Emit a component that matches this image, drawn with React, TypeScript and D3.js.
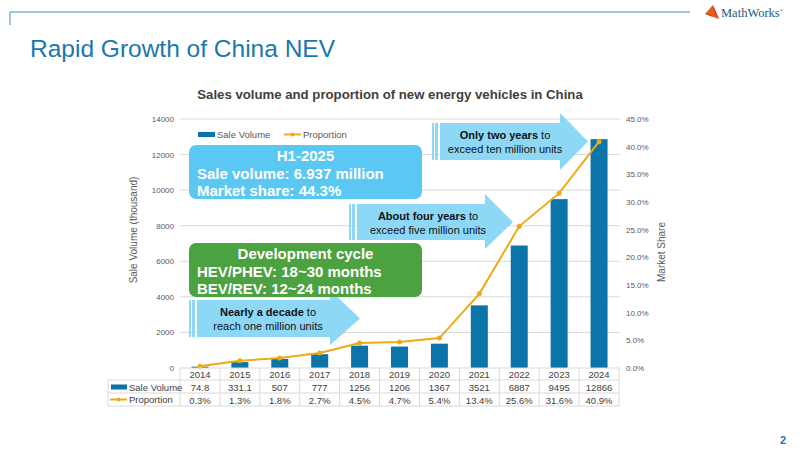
import React from 'react';
import * as d3 from 'd3';

// Annual NEV sales in China (thousand units) and share of total vehicle sales (%)
const years = ['2014', '2015', '2016', '2017', '2018', '2019', '2020', '2021', '2022', '2023', '2024'];
const saleVolume = [74.8, 331.1, 507, 777, 1256, 1206, 1367, 3521, 6887, 9495, 12866];
const saleLabels = ['74.8', '331.1', '507', '777', '1256', '1206', '1367', '3521', '6887', '9495', '12866'];
const proportion = [0.3, 1.3, 1.8, 2.7, 4.5, 4.7, 5.4, 13.4, 25.6, 31.6, 40.9];
const volumeTicks = [0, 2000, 4000, 6000, 8000, 10000, 12000, 14000];
const shareTicks = [0, 5, 10, 15, 20, 25, 30, 35, 40, 45];

const FONT = 'Liberation Sans, Arial, sans-serif';
const BLUE = '#0b74a8';
const ORANGE = '#eeaa12';
const GRID = '#d9d9d9';
const TICK = '#595959';
const ARROW = '#8dd7f7';

function arrowPath(x0: number, x1: number, tip: number, y0: number, y1: number, h0: number, h1: number) {
  const mid = (y0 + y1) / 2;
  return `M${x0},${y0}H${x1}V${h0}L${tip},${mid}L${x1},${h1}V${y1}H${x0}Z`;
}

function Arrow({ x0, x1, tip, y0, y1, h0, h1 }: { x0: number; x1: number; tip: number; y0: number; y1: number; h0: number; h1: number }) {
  return (
    <g>
      <rect x={x0 - 8} y={y0} width={2} height={y1 - y0} fill={ARROW} />
      <rect x={x0 - 5} y={y0} width={3} height={y1 - y0} fill={ARROW} />
      <path d={arrowPath(x0, x1, tip, y0, y1, h0, h1)} fill={ARROW} />
    </g>
  );
}

export default function App() {
  const width = 800;
  const height = 450;
  const left = 180;
  const right = 619;
  const top = 119;
  const bottom = 368;

  const x = d3.scaleBand<string>().domain(years).range([left, right]).paddingInner(0).paddingOuter(0);
  const y = d3.scaleLinear().domain([0, 14000]).range([bottom, top]);
  const y2 = d3.scaleLinear().domain([0, 45]).range([bottom, top]);
  const barW = 17;
  const cx = (yr: string) => (x(yr) as number) + x.bandwidth() / 2;

  const line = d3.line<number>()
    .x((_, i) => cx(years[i]))
    .y((d) => y2(d));

  const rowYear = 374;
  const rowSale = 387;
  const rowProp = 400;
  const tableLines = [380, 393, 406];
  const tableLeft = 108;

  return (
    <svg width={width} height={height} style={{ position: 'absolute', left: 0, top: 0, background: '#fff' }} fontFamily={FONT}>
      {/* slide frame */}
      <line x1={10} x2={690} y1={12} y2={12} stroke="#4a8bb0" strokeWidth={1} />
      <line x1={10} x2={10} y1={12} y2={25} stroke="#4a8bb0" strokeWidth={1} />
      <g transform="translate(705,5)">
        <path d="M0,9 L8,0 L14,14 L8,12 Z" fill="#e8591a" />
        <path d="M8,0 L14,14 L10,8 Z" fill="#c0391b" />
        <path d="M0,9 L5,10 L8,12 Z" fill="#2a6fa8" />
        <text x={16} y={11.5} fontFamily="Liberation Serif, serif" fontSize={12.5} fill="#25567f">
          MathWorks<tspan fontSize={5} dy={-5}>®</tspan>
        </text>
      </g>
      <text x={30} y={57} fontSize={24.5} fill="#1978ad">Rapid Growth of China NEV</text>
      <text x={780} y={444} fontSize={11} fontWeight="bold" fill="#1978ad">2</text>

      {/* chart title */}
      <text x={390} y={99} textAnchor="middle" fontSize={13.2} fontWeight="bold" fill="#404040">
        Sales volume and proportion of new energy vehicles in China
      </text>

      {/* gridlines */}
      {volumeTicks.filter((t) => t > 0).map((t) => (
        <line key={t} x1={left} x2={right + 1} y1={y(t)} y2={y(t)} stroke={GRID} strokeWidth={1} />
      ))}

      {/* left axis labels */}
      {volumeTicks.map((t) => (
        <text key={t} x={174} y={y(t) + 3} textAnchor="end" fontSize={8} fill={TICK}>{t}</text>
      ))}
      {/* right axis labels */}
      {shareTicks.map((t) => (
        <text key={t} x={626} y={y2(t) + 3} fontSize={8} fill={TICK}>{`${t.toFixed(1)}%`}</text>
      ))}
      <text transform={`translate(137,230) rotate(-90)`} textAnchor="middle" fontSize={10} fill={TICK}>Sale Volume (thousand)</text>
      <text transform={`translate(665,252) rotate(-90)`} textAnchor="middle" fontSize={10} fill={TICK}>Market Share</text>

      {/* bars */}
      {saleVolume.map((v, i) => (
        <rect key={years[i]} x={cx(years[i]) - barW / 2} y={y(v)} width={barW} height={y(0) - y(v)} fill={BLUE} />
      ))}

      {/* proportion line */}
      <path d={line(proportion) ?? ''} fill="none" stroke={ORANGE} strokeWidth={2} />
      {proportion.map((v, i) => (
        <circle key={years[i]} cx={cx(years[i])} cy={y2(v)} r={2.5} fill={ORANGE} />
      ))}

      {/* legend */}
      <rect x={198} y={132} width={17} height={5} fill={BLUE} />
      <text x={217} y={137.5} fontSize={9.5} fill={TICK}>Sale Volume</text>
      <line x1={284} x2={301} y1={134.5} y2={134.5} stroke={ORANGE} strokeWidth={2} />
      <circle cx={292.5} cy={134.5} r={2} fill={ORANGE} />
      <text x={303} y={137.5} fontSize={9.5} fill={TICK}>Proportion</text>

      {/* data table */}
      <line x1={left} x2={right} y1={bottom} y2={bottom} stroke={GRID} />
      {tableLines.map((ty) => (
        <line key={ty} x1={tableLeft} x2={right} y1={ty} y2={ty} stroke={GRID} />
      ))}
      <line x1={tableLeft} x2={tableLeft} y1={380} y2={406} stroke={GRID} />
      {[...years.map((yr) => x(yr) as number), right].map((vx, i) => (
        <line key={i} x1={vx} x2={vx} y1={bottom} y2={406} stroke={GRID} />
      ))}
      {years.map((yr, i) => (
        <g key={yr} fontSize={9.5} fill="#404040" textAnchor="middle">
          <text x={cx(yr)} y={rowYear + 3.5}>{yr}</text>
          <text x={cx(yr)} y={rowSale + 3.5}>{saleLabels[i]}</text>
          <text x={cx(yr)} y={rowProp + 3.5}>{`${proportion[i].toFixed(1)}%`}</text>
        </g>
      ))}
      <rect x={111} y={384.5} width={16} height={5} fill={BLUE} />
      <text x={129} y={390.5} fontSize={9.5} fill="#404040">Sale Volume</text>
      <line x1={110} x2={127} y1={399.5} y2={399.5} stroke={ORANGE} strokeWidth={2} />
      <circle cx={118.5} cy={399.5} r={2} fill={ORANGE} />
      <text x={129} y={403} fontSize={9.5} fill="#404040">Proportion</text>

      {/* callout arrows */}
      <Arrow x0={197} x1={330} tip={360} y0={300} y1={337} h0={290} h1={345} />
      <text x={268} y={316} textAnchor="middle" fontSize={11} fill="#111">
        <tspan fontWeight="bold">Nearly a decade</tspan> to
      </text>
      <text x={268} y={330} textAnchor="middle" fontSize={11} fill="#111">reach one million units</text>

      <Arrow x0={357} x1={485} tip={513} y0={204} y1={240} h0={194} h1={249} />
      <text x={428} y={220} textAnchor="middle" fontSize={11} fill="#111">
        <tspan fontWeight="bold">About four years</tspan> to
      </text>
      <text x={428} y={234} textAnchor="middle" fontSize={11} fill="#111">exceed five million units</text>

      <Arrow x0={440} x1={560} tip={588} y0={123} y1={160} h0={113} h1={170} />
      <text x={505} y={139} textAnchor="middle" fontSize={11} fill="#111">
        <tspan fontWeight="bold">Only two years</tspan> to
      </text>
      <text x={505} y={153} textAnchor="middle" fontSize={11} fill="#111">exceed ten million units</text>

      {/* info boxes */}
      <rect x={189} y={145} width={233} height={54} rx={7} fill="#5bc8f4" />
      <g fill="#fff" fontWeight="bold" fontSize={15}>
        <text x={305.5} y={160.5} textAnchor="middle">H1-2025</text>
        <text x={197} y={178.5}>Sale volume: 6.937 million</text>
        <text x={197} y={196}>Market share: 44.3%</text>
      </g>
      <rect x={189} y={243} width={233} height={54} rx={7} fill="#4ca140" />
      <g fill="#fff" fontWeight="bold" fontSize={15}>
        <text x={305.5} y={258.5} textAnchor="middle">Development cycle</text>
        <text x={197} y={276.5}>HEV/PHEV: 18~30 months</text>
        <text x={197} y={294}>BEV/REV: 12~24 months</text>
      </g>
    </svg>
  );
}
